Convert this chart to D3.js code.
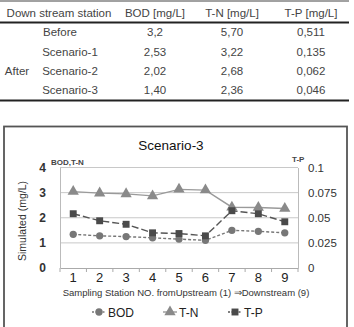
<!DOCTYPE html>
<html><head><meta charset="utf-8">
<script src="https://cdn.jsdelivr.net/npm/d3@7"></script>
<style>body{margin:0;background:#fff}svg{display:block;font-family:"Liberation Sans",Arial,sans-serif}</style>
</head><body><svg id="c" width="354" height="327"></svg>
<script>
// Table data
const tableHeaders = ["Down stream station", "BOD [mg/L]", "T-N [mg/L]", "T-P [mg/L]"];
const tableRows = ["Before", "Scenario-1", "Scenario-2", "Scenario-3"];
const tableBOD = ["3,2", "2,53", "2,02", "1,40"];
const tableTN = ["5,70", "3,22", "2,68", "2,36"];
const tableTP = ["0,511", "0,135", "0,062", "0,046"];

// Chart data
const stations = ["1","2","3","4","5","6","7","8","9"];
const bod = [1.34, 1.28, 1.25, 1.20, 1.15, 1.10, 1.50, 1.46, 1.40];
const tn  = [3.04, 2.98, 2.95, 2.87, 3.13, 3.10, 2.42, 2.41, 2.37];
const tp  = [0.054, 0.047, 0.0435, 0.035, 0.0343, 0.032, 0.057, 0.054, 0.046];
const leftTicks = [0,1,2,3,4];
const rightTicks = [0, 0.025, 0.05, 0.075, 0.1];
const rightTickLabels = ["0","0.025","0.05","0.075","0.1"];

const svg = d3.select("#c");

// ---- Table ----
const colX = [59, 155, 232, 311];
svg.append("line").attr("x1",0).attr("x2",349).attr("y1",1).attr("y2",1).attr("stroke","#444").attr("stroke-width",1);
svg.append("line").attr("x1",0).attr("x2",349).attr("y1",22.5).attr("y2",22.5).attr("stroke","#222").attr("stroke-width",1.8);
svg.append("line").attr("x1",0).attr("x2",349).attr("y1",100.5).attr("y2",100.5).attr("stroke","#222").attr("stroke-width",1.8);
const tfont = {size: "11.5px", fill: "#444"};
tableHeaders.forEach((h,i)=>{
  svg.append("text").attr("x",colX[i]).attr("y",17).attr("text-anchor","middle")
    .attr("font-size",tfont.size).attr("fill",tfont.fill).text(h);
});
const rowY = [36, 56, 75, 94];
const rowLabelX = [60, 70, 70, 70];
tableRows.forEach((r,i)=>{
  svg.append("text").attr("x",rowLabelX[i]).attr("y",rowY[i]).attr("text-anchor","middle")
    .attr("font-size",tfont.size).attr("fill",tfont.fill).text(r);
  [tableBOD, tableTN, tableTP].forEach((col,j)=>{
    svg.append("text").attr("x",colX[j+1]).attr("y",rowY[i]).attr("text-anchor","middle")
      .attr("font-size",tfont.size).attr("fill",tfont.fill).text(col[i]);
  });
});
svg.append("text").attr("x",17).attr("y",75).attr("text-anchor","middle")
  .attr("font-size",tfont.size).attr("fill",tfont.fill).text("After");

// ---- Chart frame ----
svg.append("rect").attr("x",4).attr("y",126.5).attr("width",343).attr("height",210)
  .attr("fill","none").attr("stroke","#555").attr("stroke-width",1.8);

const L = 60, R = 298, T = 167.5, B = 268;
const x = d3.scaleBand().domain(stations).range([L,R]);
const yL = d3.scaleLinear().domain([0,4]).range([B,T]);
const yR = d3.scaleLinear().domain([0,0.1]).range([B,T]);

svg.append("text").attr("x",171).attr("y",150).attr("text-anchor","middle")
  .attr("font-size","13.5px").attr("fill","#111").text("Scenario-3");

// gridlines
svg.append("g").selectAll("line").data(leftTicks.filter(d=>d>0)).join("line")
  .attr("x1",L).attr("x2",R).attr("y1",d=>yL(d)).attr("y2",d=>yL(d))
  .attr("stroke","#c8c8c8").attr("stroke-width",1);

// axes
const gx = svg.append("g").attr("transform",`translate(0,${B})`)
  .call(d3.axisBottom(x).tickSize(0).tickPadding(5));
gx.select(".domain").attr("stroke","#aaa");
gx.selectAll("text").attr("font-size","13px").attr("fill","#222").attr("font-family","Liberation Sans, Arial, sans-serif");
// boundary tick marks
const bounds = stations.map(s=>x(s)).concat([R]);
svg.append("g").selectAll("line").data(bounds).join("line")
  .attr("x1",d=>d).attr("x2",d=>d).attr("y1",B).attr("y2",B+4).attr("stroke","#aaa");

const gl = svg.append("g").attr("transform",`translate(${L},0)`)
  .call(d3.axisLeft(yL).tickValues(leftTicks).tickSize(0).tickPadding(14).tickFormat(d3.format("d")));
gl.select(".domain").attr("stroke","#bbb");
gl.selectAll("text").attr("font-size","12px").attr("font-weight","bold").attr("fill","#333").attr("font-family","Liberation Sans, Arial, sans-serif");

const gr = svg.append("g").attr("transform",`translate(${R},0)`)
  .call(d3.axisRight(yR).tickValues(rightTicks).tickSize(0).tickPadding(10).tickFormat((d,i)=>rightTickLabels[i]));
gr.select(".domain").attr("stroke","#bbb");
gr.selectAll("text").attr("font-size","11.5px").attr("fill","#333").attr("font-family","Liberation Sans, Arial, sans-serif");

svg.append("text").attr("x",51).attr("y",165).attr("font-size","8px").attr("font-weight","bold").attr("fill","#444").text("BOD,T-N");
svg.append("text").attr("x",292).attr("y",162).attr("font-size","8px").attr("font-weight","bold").attr("fill","#444").text("T-P");

svg.append("text").attr("transform","translate(26,221) rotate(-90)").attr("text-anchor","middle")
  .attr("font-size","10.5px").attr("fill","#333").text("Simulated (mg/L)");
svg.append("text").attr("x",186).attr("y",296).attr("text-anchor","middle")
  .attr("font-size","9.5px").attr("fill","#333").text("Sampling Station NO. fromUpstream (1) \u21D2Downstream (9)");

// series
const cx = s => x(s) + x.bandwidth()/2;
const series = [
  {name:"BOD", vals:bod, y:yL, stroke:"#777", dash:"3,2", marker:"circle", fill:"#777"},
  {name:"T-N", vals:tn, y:yL, stroke:"#9a9a9a", dash:null, marker:"triangle", fill:"#8a8a8a"},
  {name:"T-P", vals:tp, y:yR, stroke:"#555", dash:"7,3", marker:"square", fill:"#4a4a4a"}
];
const sym = {circle: d3.symbol().type(d3.symbolCircle).size(42),
             triangle: d3.symbol().type(d3.symbolTriangle).size(55),
             square: d3.symbol().type(d3.symbolSquare).size(48)};
series.forEach(s=>{
  const line = d3.line().x((d,i)=>cx(stations[i])).y(d=>s.y(d));
  svg.append("path").datum(s.vals).attr("d",line).attr("fill","none")
    .attr("stroke",s.stroke).attr("stroke-width",1.4).attr("stroke-dasharray",s.dash);
  svg.append("g").selectAll("path").data(s.vals).join("path")
    .attr("transform",(d,i)=>`translate(${cx(stations[i])},${s.y(d)})`)
    .attr("d",sym[s.marker]()).attr("fill",s.fill);
});

// legend
const legX = [92, 163, 228];
const legY = 312;
series.forEach((s,i)=>{
  const g = svg.append("g");
  g.append("line").attr("x1",legX[i]).attr("x2",legX[i]+14).attr("y1",legY).attr("y2",legY)
    .attr("stroke",s.stroke).attr("stroke-width",1.4).attr("stroke-dasharray",s.dash ? "2,1.5" : null);
  g.append("path").attr("transform",`translate(${legX[i]+7},${legY})`).attr("d",sym[s.marker]()).attr("fill",s.fill);
  g.append("text").attr("x",legX[i]+16).attr("y",legY+4.5).attr("font-size","12px").attr("fill","#222").text(s.name);
});
</script></body></html>
